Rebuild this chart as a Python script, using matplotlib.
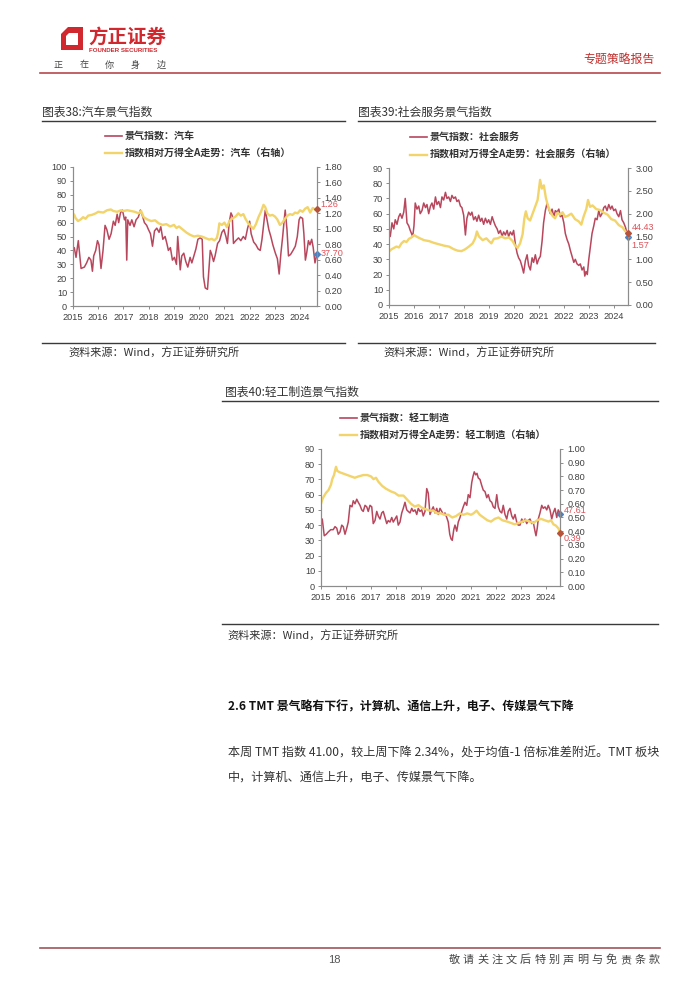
import matplotlib
matplotlib.use('Agg')
import matplotlib.pyplot as plt
from matplotlib.lines import Line2D
from matplotlib.patches import Polygon
from matplotlib.ticker import FormatStrFormatter
from matplotlib.font_manager import FontProperties
import numpy as np

# ---------------- data ----------------
years = list(range(2015, 2025))

auto_idx_dates = [2015.00, 2015.05, 2015.12, 2015.21, 2015.26, 2015.32, 2015.45, 2015.54, 2015.63, 2015.71,
                  2015.77, 2015.82, 2015.90, 2015.97, 2016.03, 2016.11, 2016.19, 2016.27, 2016.34, 2016.43,
                  2016.51, 2016.60, 2016.67, 2016.75, 2016.81, 2016.88, 2016.96, 2017.04, 2017.09, 2017.13,
                  2017.17, 2017.26, 2017.33, 2017.42, 2017.50, 2017.59, 2017.67, 2017.75, 2017.83, 2017.92,
                  2017.99, 2018.07, 2018.15, 2018.23, 2018.32, 2018.41, 2018.48, 2018.56, 2018.65, 2018.72,
                  2018.78, 2018.86, 2018.94, 2019.02, 2019.10, 2019.15, 2019.21, 2019.25, 2019.31, 2019.39,
                  2019.47, 2019.55, 2019.64, 2019.71, 2019.79, 2019.87, 2019.95, 2020.04, 2020.12, 2020.17,
                  2020.24, 2020.33, 2020.38, 2020.44, 2020.50, 2020.57, 2020.63, 2020.73, 2020.81, 2020.90,
                  2020.98, 2021.06, 2021.12, 2021.19, 2021.26, 2021.31, 2021.36, 2021.45, 2021.56, 2021.65,
                  2021.75, 2021.83, 2021.92, 2022.00, 2022.06, 2022.16, 2022.25, 2022.34, 2022.42, 2022.49,
                  2022.55, 2022.62, 2022.69, 2022.76, 2022.84, 2022.92, 2023.02, 2023.10, 2023.17, 2023.24,
                  2023.31, 2023.37, 2023.41, 2023.48, 2023.54, 2023.62, 2023.72, 2023.81, 2023.89, 2023.96,
                  2024.01, 2024.10, 2024.15, 2024.21, 2024.26, 2024.33, 2024.39, 2024.46, 2024.52, 2024.59,
                  2024.64, 2024.67]
auto_idx_vals = [40, 42, 35, 47, 38, 27, 28, 31, 35, 33,
                 25, 36, 40, 47, 44, 27, 40, 58, 55, 48,
                 52, 61, 58, 66, 60, 67, 69, 62, 64, 33,
                 62, 58, 62, 57, 62, 64, 69, 65, 60, 58,
                 55, 52, 43, 54, 56, 53, 57, 48, 50, 45,
                 40, 42, 33, 35, 30, 50, 35, 26, 36, 38,
                 32, 28, 35, 31, 36, 41, 48, 49, 48, 21,
                 13, 12, 25, 40, 37, 32, 36, 45, 47, 53,
                 55, 50, 45, 60, 67, 65, 45, 47, 49, 47,
                 50, 48, 56, 61, 52, 46, 44, 41, 40, 48,
                 58, 69, 62, 55, 50, 44, 38, 34, 23, 38,
                 50, 62, 69, 55, 36, 37, 40, 43, 50, 62,
                 64, 63, 52, 33, 38, 47, 44, 48, 42, 31,
                 35, 37.70]
auto_rel_dates = [2015.00, 2015.05, 2015.10, 2015.20, 2015.30, 2015.40, 2015.50, 2015.60, 2015.75, 2015.90,
                  2016.00, 2016.20, 2016.35, 2016.50, 2016.60, 2016.75, 2016.90, 2017.00, 2017.15, 2017.30,
                  2017.45, 2017.60, 2017.70, 2017.80, 2017.95, 2018.10, 2018.25, 2018.40, 2018.55, 2018.70,
                  2018.85, 2019.00, 2019.10, 2019.20, 2019.35, 2019.50, 2019.65, 2019.80, 2019.95, 2020.10,
                  2020.25, 2020.40, 2020.50, 2020.60, 2020.70, 2020.75, 2020.80, 2020.90, 2021.00, 2021.10,
                  2021.20, 2021.30, 2021.45, 2021.55, 2021.65, 2021.75, 2021.85, 2021.95, 2022.05, 2022.15,
                  2022.25, 2022.35, 2022.45, 2022.55, 2022.62, 2022.70, 2022.80, 2022.90, 2023.00, 2023.10,
                  2023.20, 2023.30, 2023.40, 2023.50, 2023.60, 2023.70, 2023.80, 2023.90, 2024.00, 2024.10,
                  2024.20, 2024.30, 2024.40, 2024.50, 2024.60, 2024.67]
auto_rel_vals = [1.20, 1.18, 1.14, 1.10, 1.12, 1.15, 1.13, 1.17, 1.18, 1.20,
                 1.22, 1.21, 1.24, 1.25, 1.23, 1.22, 1.24, 1.23, 1.24, 1.23,
                 1.22, 1.20, 1.23, 1.15, 1.12, 1.10, 1.11, 1.07, 1.05, 1.06,
                 1.03, 1.05, 1.01, 1.03, 0.99, 0.95, 0.92, 0.90, 0.91, 0.90,
                 0.88, 0.86, 0.87, 0.85, 0.88, 0.95, 1.07, 1.05, 1.08, 1.02,
                 1.10, 1.13, 1.16, 1.20, 1.17, 1.19, 1.12, 1.07, 1.03, 1.00,
                 1.06, 1.15, 1.22, 1.31, 1.28, 1.20, 1.17, 1.18, 1.16, 1.12,
                 1.05, 1.08, 1.13, 1.17, 1.19, 1.18, 1.21, 1.20, 1.24, 1.22,
                 1.26, 1.28, 1.21, 1.27, 1.25, 1.26]

svc_idx_dates = [2015.00, 2015.05, 2015.12, 2015.19, 2015.25, 2015.32, 2015.39, 2015.45, 2015.52, 2015.59,
                 2015.65, 2015.72, 2015.79, 2015.85, 2015.95, 2016.00, 2016.05, 2016.12, 2016.19, 2016.25,
                 2016.32, 2016.39, 2016.46, 2016.52, 2016.59, 2016.66, 2016.72, 2016.79, 2016.86, 2016.92,
                 2016.99, 2017.06, 2017.12, 2017.19, 2017.26, 2017.32, 2017.39, 2017.46, 2017.52, 2017.59,
                 2017.66, 2017.72, 2017.79, 2017.86, 2017.92, 2017.99, 2018.06, 2018.12, 2018.19, 2018.26,
                 2018.32, 2018.39, 2018.46, 2018.52, 2018.59, 2018.66, 2018.72, 2018.79, 2018.86, 2018.93,
                 2018.99, 2019.06, 2019.13, 2019.19, 2019.26, 2019.33, 2019.39, 2019.46, 2019.53, 2019.59,
                 2019.66, 2019.73, 2019.79, 2019.86, 2019.93, 2019.99, 2020.06, 2020.13, 2020.19, 2020.26,
                 2020.33, 2020.39, 2020.46, 2020.53, 2020.59, 2020.66, 2020.73, 2020.79, 2020.86, 2020.93,
                 2020.99, 2021.06, 2021.13, 2021.19, 2021.26, 2021.33, 2021.40, 2021.46, 2021.53, 2021.60,
                 2021.66, 2021.73, 2021.80, 2021.86, 2021.93, 2022.00, 2022.06, 2022.13, 2022.20, 2022.26,
                 2022.33, 2022.40, 2022.46, 2022.53, 2022.60, 2022.66, 2022.73, 2022.80, 2022.84, 2022.89,
                 2022.94, 2023.00, 2023.06, 2023.13, 2023.20, 2023.26, 2023.33, 2023.40, 2023.46, 2023.53,
                 2023.60, 2023.66, 2023.73, 2023.80, 2023.87, 2023.93, 2024.00, 2024.07, 2024.13, 2024.20,
                 2024.27, 2024.33, 2024.40, 2024.47, 2024.53, 2024.57]
svc_idx_vals = [49, 45, 54, 50, 56, 53, 58, 60, 57, 61,
                70, 54, 52, 49, 45, 52, 67, 63, 65, 60,
                62, 67, 64, 66, 60, 65, 67, 63, 71, 66,
                68, 64, 71, 69, 74, 70, 71, 68, 72, 70,
                71, 68, 69, 65, 64, 59, 46, 57, 61, 59,
                61, 56, 58, 55, 59, 55, 57, 53, 57, 54,
                56, 53, 58, 55, 52, 50, 47, 49, 45, 48,
                46, 49, 45, 48, 46, 49, 40, 34, 31, 29,
                25, 21, 29, 33, 26, 23, 31, 28, 33, 27,
                30, 32, 42, 54, 62, 67, 63, 60, 63, 58,
                62, 61, 63, 58, 59, 54, 47, 43, 40, 36,
                32, 28, 30, 27, 26, 27, 23, 25, 19, 22,
                20, 30, 38, 47, 52, 57, 56, 62, 58, 60,
                64, 65, 62, 66, 63, 65, 62, 63, 60, 58,
                62, 56, 54, 51, 47, 44.43]
svc_rel_dates = [2015.00, 2015.10, 2015.20, 2015.30, 2015.40, 2015.50, 2015.60, 2015.70, 2015.80, 2015.90,
                 2016.00, 2016.10, 2016.20, 2016.40, 2016.60, 2016.80, 2017.00, 2017.20, 2017.40, 2017.60,
                 2017.75, 2017.90, 2018.05, 2018.20, 2018.35, 2018.45, 2018.52, 2018.60, 2018.75, 2018.90,
                 2019.00, 2019.10, 2019.20, 2019.35, 2019.50, 2019.65, 2019.80, 2019.95, 2020.05, 2020.15,
                 2020.25, 2020.35, 2020.42, 2020.48, 2020.55, 2020.65, 2020.75, 2020.85, 2020.95, 2021.05,
                 2021.12, 2021.20, 2021.28, 2021.35, 2021.45, 2021.55, 2021.65, 2021.75, 2021.85, 2021.95,
                 2022.05, 2022.15, 2022.30, 2022.45, 2022.60, 2022.70, 2022.80, 2022.90, 2022.97, 2023.05,
                 2023.15, 2023.30, 2023.45, 2023.60, 2023.75, 2023.90, 2024.05, 2024.20, 2024.35, 2024.45,
                 2024.57]
svc_rel_vals = [1.17, 1.22, 1.25, 1.28, 1.26, 1.35, 1.40, 1.38, 1.45, 1.48,
                1.53, 1.50, 1.47, 1.42, 1.40, 1.36, 1.33, 1.30, 1.28, 1.22,
                1.19, 1.18, 1.22, 1.28, 1.35, 1.46, 1.61, 1.50, 1.42, 1.46,
                1.40, 1.35, 1.45, 1.46, 1.50, 1.46, 1.48, 1.40, 1.30, 1.25,
                1.35, 1.55, 1.90, 2.05, 1.90, 1.85, 2.00, 2.15, 2.30, 2.74,
                2.55, 2.62, 2.35, 2.20, 2.05, 1.95, 1.90, 2.02, 1.98, 2.03,
                1.93, 1.95, 2.00, 1.88, 1.83, 1.76, 1.95, 2.10, 2.30, 2.15,
                2.18, 2.10, 2.08, 2.02, 1.98, 1.88, 1.85, 1.75, 1.70, 1.62,
                1.57]

lm_idx_dates = [2015.00, 2015.05, 2015.13, 2015.21, 2015.29, 2015.39, 2015.49, 2015.56, 2015.63, 2015.69,
                2015.76, 2015.83, 2015.89, 2015.96, 2016.03, 2016.09, 2016.16, 2016.24, 2016.29, 2016.36,
                2016.43, 2016.49, 2016.56, 2016.63, 2016.69, 2016.76, 2016.83, 2016.89, 2016.96, 2017.03,
                2017.09, 2017.16, 2017.23, 2017.29, 2017.36, 2017.43, 2017.49, 2017.56, 2017.63, 2017.69,
                2017.76, 2017.83, 2017.89, 2017.96, 2018.03, 2018.09, 2018.16, 2018.23, 2018.29, 2018.36,
                2018.43, 2018.49, 2018.56, 2018.63, 2018.69, 2018.76, 2018.83, 2018.89, 2018.96, 2019.03,
                2019.09, 2019.16, 2019.23, 2019.29, 2019.36, 2019.43, 2019.49, 2019.56, 2019.63, 2019.69,
                2019.76, 2019.83, 2019.89, 2019.96, 2020.03, 2020.09, 2020.15, 2020.20, 2020.25, 2020.31,
                2020.36, 2020.43, 2020.49, 2020.56, 2020.63, 2020.69, 2020.76, 2020.83, 2020.89, 2020.96,
                2021.03, 2021.08, 2021.13, 2021.19, 2021.24, 2021.29, 2021.36, 2021.43, 2021.49, 2021.56,
                2021.63, 2021.69, 2021.76, 2021.83, 2021.89, 2021.96, 2022.03, 2022.09, 2022.16, 2022.23,
                2022.29, 2022.36, 2022.43, 2022.49, 2022.56, 2022.63, 2022.69, 2022.76, 2022.83, 2022.89,
                2022.96, 2023.03, 2023.09, 2023.16, 2023.23, 2023.29, 2023.36, 2023.43, 2023.49, 2023.56,
                2023.60, 2023.65, 2023.69, 2023.76, 2023.83, 2023.89, 2023.96, 2024.03, 2024.09, 2024.16,
                2024.23, 2024.29, 2024.36, 2024.43, 2024.49, 2024.56]
lm_idx_vals = [42, 44, 33, 34, 35.5, 37, 37, 39, 38, 34,
               35.5, 40, 39, 34, 38, 42, 53, 52, 56, 54,
               57, 55, 53, 50, 49, 53, 52, 49, 53, 52,
               41, 43, 49, 46, 44, 48, 49, 45, 41, 43,
               42, 45, 42, 44, 46, 40, 42, 48, 51, 55,
               50, 49, 48, 51, 49, 50, 47, 51, 49, 50,
               46, 49, 64, 61, 47, 50, 52, 48, 51, 47,
               51, 49, 47, 48, 45, 42, 34, 31, 30, 37,
               40, 36, 42, 45, 49, 52, 55, 53, 60, 58,
               68, 72, 75, 73, 74, 71, 70, 66, 63, 62,
               58, 60, 56, 55, 52, 51, 60, 52, 49, 48,
               53, 47, 44, 49, 51, 46, 44, 47, 42, 40,
               40, 44, 42, 44, 41, 43, 44, 41, 42, 36,
               33, 38, 44, 48, 53, 51, 52, 50, 53, 50,
               44, 48, 51, 45, 50, 47.61]
lm_rel_dates = [2015.00, 2015.05, 2015.10, 2015.20, 2015.30, 2015.40, 2015.45, 2015.52, 2015.60, 2015.65,
                2015.75, 2015.90, 2016.05, 2016.20, 2016.35, 2016.50, 2016.70, 2016.85, 2017.00, 2017.10,
                2017.20, 2017.30, 2017.45, 2017.60, 2017.80, 2017.95, 2018.10, 2018.30, 2018.45, 2018.60,
                2018.75, 2018.90, 2019.05, 2019.20, 2019.35, 2019.50, 2019.65, 2019.80, 2019.95, 2020.10,
                2020.25, 2020.40, 2020.55, 2020.70, 2020.85, 2021.00, 2021.10, 2021.22, 2021.35, 2021.50,
                2021.65, 2021.80, 2021.95, 2022.10, 2022.25, 2022.45, 2022.60, 2022.75, 2022.90, 2023.05,
                2023.20, 2023.35, 2023.50, 2023.65, 2023.80, 2023.95, 2024.10, 2024.20, 2024.30, 2024.40,
                2024.50, 2024.56]
lm_rel_vals = [0.60, 0.63, 0.65, 0.68, 0.70, 0.74, 0.78, 0.81, 0.87, 0.84,
               0.83, 0.82, 0.81, 0.80, 0.79, 0.80, 0.81, 0.81, 0.80, 0.78,
               0.79, 0.76, 0.73, 0.71, 0.69, 0.68, 0.66, 0.66, 0.63, 0.60,
               0.58, 0.59, 0.57, 0.56, 0.55, 0.55, 0.53, 0.53, 0.52, 0.52,
               0.50, 0.51, 0.53, 0.52, 0.53, 0.52, 0.53, 0.55, 0.52, 0.50,
               0.48, 0.47, 0.49, 0.50, 0.48, 0.47, 0.46, 0.45, 0.46, 0.47,
               0.48, 0.47, 0.46, 0.48, 0.49, 0.48, 0.47, 0.48, 0.45, 0.44,
               0.42, 0.39]

# ---------------- style ----------------
W, H = 700, 990
RED = '#b8475d'
YEL = '#f2d46a'
LAB = '#e0525a'
MK_RED = '#4f81bd'
MK_YEL = '#b5533c'
TXT = '#333333'
CJK = ['Noto Sans CJK SC', 'DejaVu Sans']
plt.rcParams['font.family'] = ['Liberation Sans', 'Noto Sans CJK SC', 'DejaVu Sans']

fig = plt.figure(figsize=(7, 9.9), dpi=100)


def fx(x):
    return x / W


def fy(y):
    return 1 - y / H


def hline(x1, x2, y, color, lw):
    fig.add_artist(Line2D([fx(x1), fx(x2)], [fy(y), fy(y)], transform=fig.transFigure,
                          color=color, lw=lw))


def ftext(x, y, s, **kw):
    fig.text(fx(x), fy(y), s, **kw)


def chart(box, xend, d1, v1, d2, v2, lmax, lstep, rmax, rstep, lab1_dy, lab2_dy,
          leg1, leg2, leg_xy, title, title_xy, lines_x, title_line_y, src_line_y, src_xy):
    l, t, r, b = box
    ax = fig.add_axes([fx(l), fy(b), (r - l) / W, (b - t) / H])
    ax2 = ax.twinx()
    ax.plot(d1, v1, color=RED, lw=1.1)
    ax2.plot(d2, v2, color=YEL, lw=1.7)
    ax.set_xlim(2015, xend)
    ax.set_ylim(0, lmax)
    ax2.set_ylim(0, rmax)
    ax.set_yticks(np.arange(0, lmax + 1e-9, lstep))
    ax2.set_yticks(np.arange(0, rmax + 1e-9, rstep))
    ax.yaxis.set_major_formatter(FormatStrFormatter('%d'))
    ax2.yaxis.set_major_formatter(FormatStrFormatter('%.2f'))
    ax.set_xticks(years)
    ax.set_xticklabels([str(y) for y in years])
    for a in (ax, ax2):
        a.spines['top'].set_visible(False)
        for s in ('left', 'right', 'bottom'):
            a.spines[s].set_color('#8c8c8c')
            a.spines[s].set_linewidth(0.8)
        a.tick_params(labelsize=6.6, labelcolor='#404040', color='#8c8c8c',
                      length=2.2, width=0.7, direction='out')
    ax.tick_params(axis='y', pad=2)
    ax.tick_params(axis='x', pad=2.5)
    ax2.tick_params(axis='y', pad=3)
    ax.plot([d1[-1]], [v1[-1]], marker='D', ms=3, color=MK_RED, clip_on=False, zorder=5)
    ax2.plot([d2[-1]], [v2[-1]], marker='D', ms=3, color=MK_YEL, clip_on=False, zorder=5)
    ax.annotate('%.2f' % v1[-1], (d1[-1], v1[-1]), xytext=(2.5, lab1_dy), textcoords='offset points',
                ha='left', va='center', color=LAB, fontsize=6.6, annotation_clip=False)
    ax2.annotate('%.2f' % v2[-1], (d2[-1], v2[-1]), xytext=(2.5, lab2_dy), textcoords='offset points',
                 ha='left', va='center', color=LAB, fontsize=6.6, annotation_clip=False)
    h1 = Line2D([], [], color=RED, lw=1.2)
    h2 = Line2D([], [], color=YEL, lw=1.7)
    ax2.legend([h1, h2], [leg1, leg2], loc='upper left', bbox_to_anchor=(fx(leg_xy[0]), fy(leg_xy[1])),
               bbox_transform=fig.transFigure, frameon=False, handlelength=1.7, handletextpad=0.25,
               labelspacing=0.75, borderaxespad=0, borderpad=0,
               prop=FontProperties(family=CJK, size=7.2, weight='bold'), labelcolor='#333333')
    ftext(title_xy[0], title_xy[1], title, family=CJK, fontsize=8.5, color=TXT, va='center', ha='left')
    hline(lines_x[0], lines_x[1], title_line_y, '#3a3a3a', 1.0)
    hline(lines_x[0], lines_x[1], src_line_y, '#3a3a3a', 1.0)
    ftext(src_xy[0], src_xy[1], '资料来源：Wind，方正证券研究所', family=CJK, fontsize=8, color=TXT,
          va='center', ha='left', style='italic')


chart((73, 167, 317, 306), 2024.67, auto_idx_dates, auto_idx_vals, auto_rel_dates, auto_rel_vals,
      100, 10, 1.8, 0.2, 0, 3,
      '景气指数：汽车', '指数相对万得全A走势：汽车（右轴）', (105, 131),
      '图表38:汽车景气指数', (42, 112), (42, 345), 121, 343, (68, 353))

chart((389, 168, 628, 305), 2024.57, svc_idx_dates, svc_idx_vals, svc_rel_dates, svc_rel_vals,
      90, 10, 3.0, 0.5, 7, -9,
      '景气指数：社会服务', '指数相对万得全A走势：社会服务（右轴）', (410, 132),
      '图表39:社会服务景气指数', (358, 112), (358, 655), 121, 343, (383, 353))

chart((321, 449, 560, 586), 2024.56, lm_idx_dates, lm_idx_vals, lm_rel_dates, lm_rel_vals,
      90, 10, 1.0, 0.1, 2, -4,
      '景气指数：轻工制造', '指数相对万得全A走势：轻工制造（右轴）', (340, 413),
      '图表40:轻工制造景气指数', (225, 392), (222, 658), 401, 624, (227, 636))

# ---------------- page header ----------------
logo_red = '#d0282e'
fig.add_artist(Polygon([(fx(68), fy(27)), (fx(83), fy(27)), (fx(83), fy(50)), (fx(61), fy(50)), (fx(61), fy(34))],
                       closed=True, transform=fig.transFigure, facecolor=logo_red, edgecolor='none'))
fig.add_artist(Polygon([(fx(69), fy(33)), (fx(78), fy(33)), (fx(78), fy(45)), (fx(66), fy(45)), (fx(66), fy(36))],
                       closed=True, transform=fig.transFigure, facecolor='white', edgecolor='none'))
ftext(88, 37, '方正证券', family=CJK, fontsize=14, weight='bold', color=logo_red, va='center', ha='left')
ftext(89, 51, 'FOUNDER SECURITIES', fontsize=4.4, weight='bold', color=logo_red, va='center', ha='left')
for i, ch in enumerate('正在你身边'):
    ftext(58 + i * 25.7, 65, ch, family=CJK, fontsize=6.5, color='#444444', va='center', ha='center')
ftext(655, 60, '专题策略报告', family=CJK, fontsize=8.6, color='#c0312f', va='center', ha='right')
hline(40, 660, 73, '#b5484b', 1.2)

# ---------------- body text ----------------
ftext(228, 707, '2.6 TMT 景气略有下行，计算机、通信上升，电子、传媒景气下降', family=CJK, fontsize=8.6,
      weight='bold', color='#111111', va='center', ha='left')
ftext(228, 753, '本周 TMT 指数 41.00，较上周下降 2.34%，处于均值-1 倍标准差附近。TMT 板块',
      family=CJK, fontsize=8.7, color=TXT, va='center', ha='left')
ftext(228, 777, '中，计算机、通信上升，电子、传媒景气下降。', family=CJK, fontsize=8.7, color=TXT,
      va='center', ha='left')

# ---------------- footer ----------------
hline(40, 660, 948, '#a0555a', 1.2)
ftext(334, 960, '18', fontsize=8, color='#555555', va='center', ha='center')
for i, ch in enumerate('敬请关注文后特别声明与免责条款'):
    ftext(454 + i * 14.3, 960, ch, family=CJK, fontsize=8, color='#444444', va='center', ha='center')

fig.savefig('out.png', dpi=100)
